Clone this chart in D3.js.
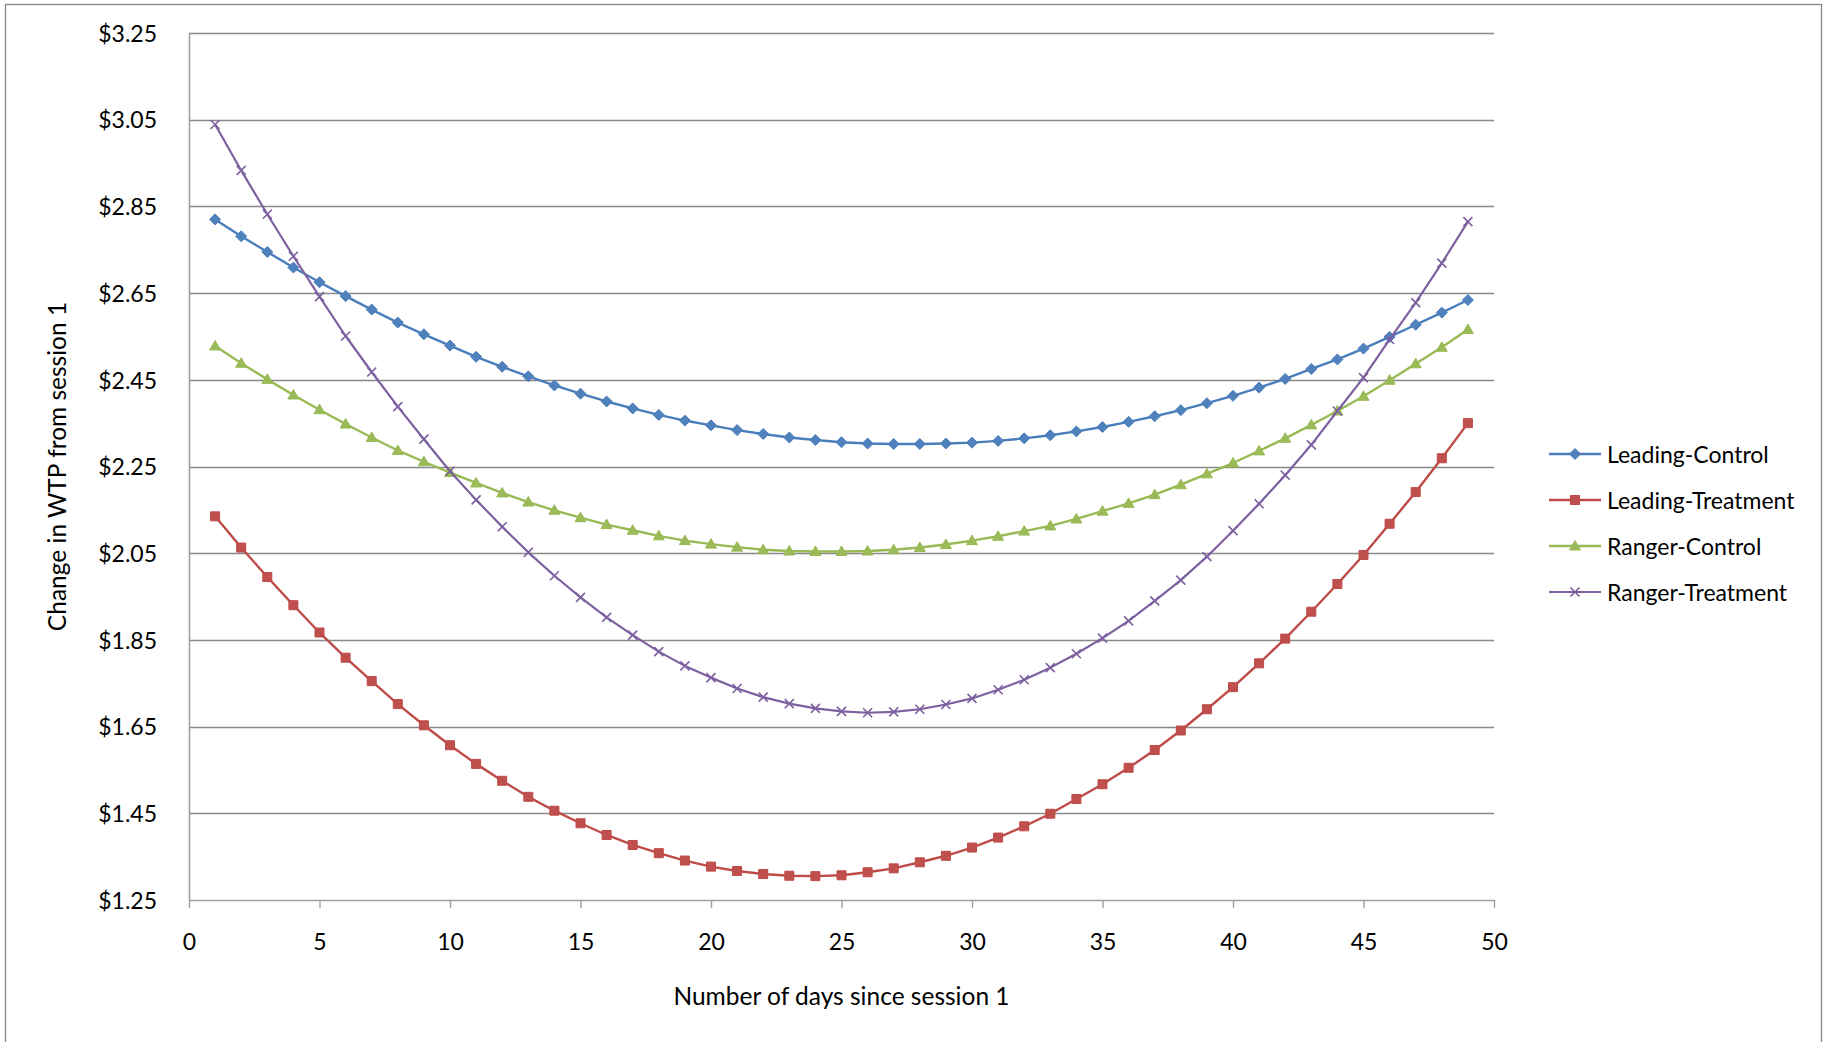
<!DOCTYPE html>
<html>
<head>
<meta charset="utf-8">
<script src="https://cdn.jsdelivr.net/npm/d3@7"></script>
<style>
  html, body { margin: 0; padding: 0; background: #ffffff; }
  svg { display: block; }
  text { font-family: Lato, "Open Sans", sans-serif; fill: #000; }
</style>
</head>
<body>
<svg id="chart" width="1831" height="1042"></svg>
<script>
// Days since session 1 (x categories)
const days = [1,2,3,4,5,6,7,8,9,10,11,12,13,14,15,16,17,18,19,20,21,22,23,24,25,
              26,27,28,29,30,31,32,33,34,35,36,37,38,39,40,41,42,43,44,45,46,47,48,49];

// Change in WTP from session 1, one array per group
const leadingControl = [2.820,2.781,2.745,2.709,2.675,2.643,2.612,2.582,2.555,2.529,
  2.503,2.480,2.458,2.437,2.418,2.400,2.384,2.369,2.356,2.345,
  2.334,2.325,2.317,2.311,2.306,2.303,2.302,2.302,2.303,2.305,
  2.309,2.315,2.322,2.331,2.341,2.353,2.366,2.380,2.396,2.413,
  2.432,2.452,2.475,2.497,2.522,2.549,2.577,2.605,2.634];

const leadingTreatment = [2.135,2.063,1.995,1.930,1.867,1.809,1.755,1.702,1.653,1.607,
  1.564,1.525,1.488,1.456,1.427,1.400,1.377,1.358,1.341,1.327,
  1.317,1.310,1.306,1.305,1.307,1.314,1.323,1.337,1.352,1.371,
  1.394,1.420,1.449,1.483,1.517,1.555,1.596,1.641,1.690,1.741,
  1.796,1.853,1.915,1.979,2.046,2.118,2.191,2.269,2.350];

const rangerControl = [2.528,2.488,2.451,2.415,2.381,2.348,2.317,2.287,2.261,2.236,
  2.212,2.189,2.168,2.149,2.132,2.116,2.103,2.090,2.079,2.071,
  2.064,2.058,2.055,2.054,2.054,2.055,2.058,2.063,2.070,2.079,
  2.089,2.101,2.113,2.129,2.147,2.165,2.185,2.208,2.233,2.258,
  2.286,2.315,2.346,2.378,2.412,2.449,2.487,2.525,2.566];

const rangerTreatment = [3.039,2.933,2.832,2.735,2.642,2.551,2.468,2.388,2.313,2.239,
  2.173,2.111,2.052,1.998,1.948,1.902,1.861,1.823,1.790,1.763,
  1.738,1.718,1.703,1.692,1.685,1.682,1.684,1.690,1.701,1.715,
  1.735,1.758,1.786,1.818,1.854,1.894,1.940,1.988,2.042,2.102,
  2.164,2.230,2.300,2.378,2.455,2.543,2.628,2.719,2.815];

const seriesNames = ["Leading-Control", "Leading-Treatment", "Ranger-Control", "Ranger-Treatment"];

// Axis ticks
const xTicks = [0,5,10,15,20,25,30,35,40,45,50];
const yTicks = [1.25,1.45,1.65,1.85,2.05,2.25,2.45,2.65,2.85,3.05,3.25];

const xTitle = "Number of days since session 1";
const yTitle = "Change in WTP from session 1";

// ---- drawing ----
const svg = d3.select("#chart");
const FONT = 23;
const TITLE_FONT = 24.5;

const plot = { left: 189, right: 1494, top: 33, bottom: 900 };

const x = d3.scaleLinear().domain([0, 50]).range([plot.left, plot.right]);
const y = d3.scaleLinear().domain([1.25, 3.25]).range([plot.bottom, plot.top]);

// outer chart frame
svg.append("rect")
  .attr("x", 5.5).attr("y", 4.5)
  .attr("width", 1816).attr("height", 1045)
  .attr("fill", "#fff")
  .attr("stroke", "#868686").attr("stroke-width", 1.3);

// horizontal gridlines
svg.append("g")
  .selectAll("line")
  .data(yTicks.slice(1))
  .join("line")
  .attr("x1", plot.left).attr("x2", plot.right)
  .attr("y1", d => Math.round(y(d)) + 0.5).attr("y2", d => Math.round(y(d)) + 0.5)
  .attr("stroke", "#898989").attr("stroke-width", 1.6);

// y axis
const yAxis = svg.append("g")
  .attr("transform", `translate(${plot.left},0)`)
  .call(d3.axisLeft(y).tickValues(yTicks).tickSize(0).tickPadding(32)
        .tickFormat(d => "$" + d.toFixed(2)));
yAxis.select(".domain").attr("stroke", "#a0a0a0").attr("stroke-width", 1.6);
yAxis.selectAll("text").attr("font-size", FONT).attr("font-family", null)
  .attr("dy", "0.36em");

// x axis
const xAxis = svg.append("g")
  .attr("transform", `translate(0,${plot.bottom})`)
  .call(d3.axisBottom(x).tickValues(xTicks).tickSizeInner(8).tickSizeOuter(0).tickPadding(26));
xAxis.select(".domain").attr("stroke", "#a0a0a0").attr("stroke-width", 1.6);
xAxis.selectAll(".tick line").attr("stroke", "#a0a0a0").attr("stroke-width", 1.4);
xAxis.selectAll("text").attr("font-size", FONT).attr("font-family", null);

// axis titles
svg.append("text")
  .attr("x", (plot.left + plot.right) / 2).attr("y", 995)
  .attr("text-anchor", "middle").attr("dominant-baseline", "central")
  .attr("font-size", TITLE_FONT)
  .text(xTitle);

svg.append("text")
  .attr("transform", `translate(56,${(plot.top + plot.bottom) / 2}) rotate(-90)`)
  .attr("text-anchor", "middle").attr("dominant-baseline", "central")
  .attr("font-size", TITLE_FONT)
  .text(yTitle);

// series definitions
const series = [
  { name: seriesNames[0], values: leadingControl,   line: "#4A7EBB", fill: "#4F81BD", marker: "diamond",  width: 2.4 },
  { name: seriesNames[1], values: leadingTreatment, line: "#BE4B48", fill: "#C0504D", marker: "square",   width: 2.4 },
  { name: seriesNames[2], values: rangerControl,    line: "#98B954", fill: "#9BBB59", marker: "triangle", width: 2.4 },
  { name: seriesNames[3], values: rangerTreatment,  line: "#7D60A0", fill: "#8064A2", marker: "x",        width: 2.2 }
];

const markerPath = {
  diamond:  "M0,-5.5L5.5,0L0,5.5L-5.5,0Z",
  square:   "M-4.5,-4.5H4.5V4.5H-4.5Z",
  triangle: "M0,-5.5L5.5,4L-5.5,4Z",
  x:        "M-4.5,-4.5L4.5,4.5M-4.5,4.5L4.5,-4.5"
};

function drawMarker(sel, s) {
  sel.append("path")
    .attr("d", markerPath[s.marker])
    .attr("fill", s.marker === "x" ? "none" : s.fill)
    .attr("stroke", s.line)
    .attr("stroke-width", s.marker === "x" ? 1.6 : 1);
}

const line = d3.line()
  .x((d, i) => x(days[i]))
  .y(d => y(d));

const seriesG = svg.append("g");
series.forEach(s => {
  const g = seriesG.append("g");
  g.append("path")
    .attr("d", line(s.values))
    .attr("fill", "none")
    .attr("stroke", s.line)
    .attr("stroke-width", s.width)
    .attr("stroke-linejoin", "round");
  g.selectAll("g.pt")
    .data(s.values)
    .join("g")
    .attr("class", "pt")
    .attr("transform", (d, i) => `translate(${x(days[i])},${y(d)})`)
    .each(function() { drawMarker(d3.select(this), s); });
});

// legend
const legend = svg.append("g");
series.forEach((s, i) => {
  const ly = 454 + i * 46;
  const g = legend.append("g").attr("transform", `translate(0,${ly})`);
  g.append("line")
    .attr("x1", 1549).attr("x2", 1601)
    .attr("stroke", s.line).attr("stroke-width", s.width);
  const m = g.append("g").attr("transform", "translate(1575,0)");
  drawMarker(m, s);
  g.append("text")
    .attr("x", 1607).attr("y", 0)
    .attr("dominant-baseline", "central")
    .attr("font-size", FONT)
    .text(s.name);
});
</script>
</body>
</html>
